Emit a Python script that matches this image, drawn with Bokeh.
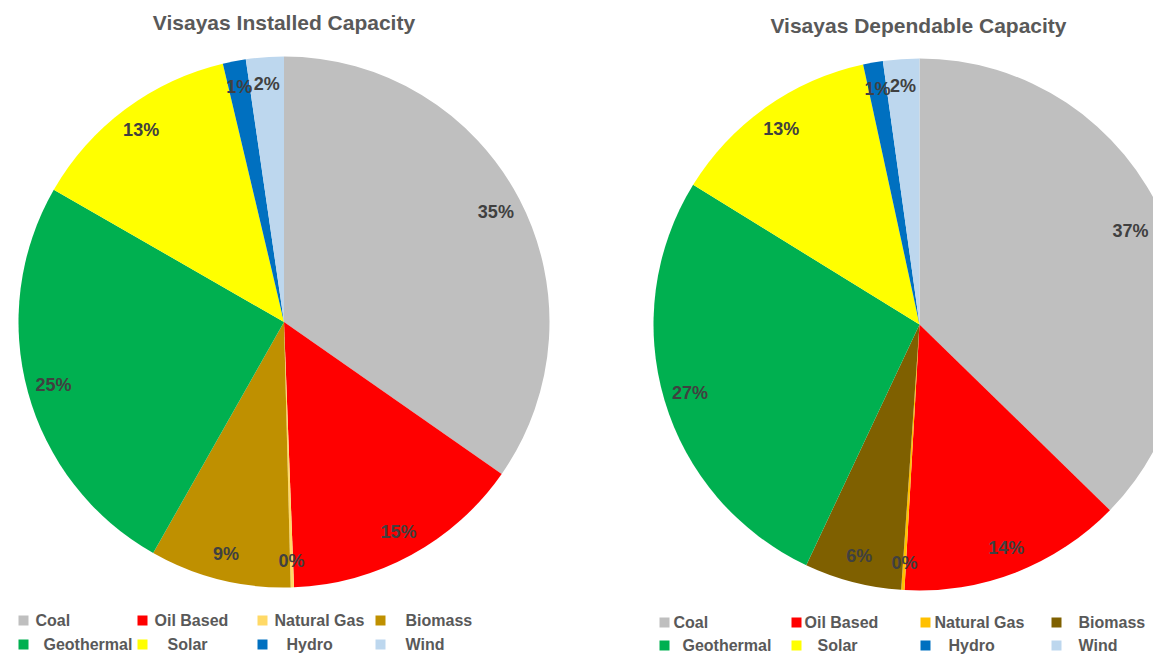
import numpy as np
from bokeh.plotting import figure
from bokeh.models import Range1d, ColumnDataSource
from bokeh.core.properties import value
from bokeh.embed import file_html
from bokeh.resources import INLINE

# ---------------- data ----------------
categories = ["Coal", "Oil Based", "Natural Gas", "Biomass",
              "Geothermal", "Solar", "Hydro", "Wind"]
installed = [34.7, 14.7, 0.2, 8.6, 25.1, 13.0, 1.4, 2.3]
dependable = [37.3, 13.6, 0.2, 5.9, 26.8, 12.8, 1.2, 2.2]
titles = ["Visayas Installed Capacity", "Visayas Dependable Capacity"]

colors_installed = ["#BFBFBF", "#FF0000", "#FFD966", "#BF9000",
                    "#00B050", "#FFFF00", "#0070C0", "#BDD7EE"]
colors_dependable = ["#BFBFBF", "#FF0000", "#FFC000", "#7F6000",
                     "#00B050", "#FFFF00", "#0070C0", "#BDD7EE"]

# ---------------- layout ----------------
W, H = 1153, 654
FONT = "Liberation Sans"


def sy(y):
    # picture y (from top) -> data y (up)
    return H - y


p = figure(width=W, height=H, x_range=Range1d(0, W), y_range=Range1d(0, H),
           output_backend="svg", toolbar_location=None, min_border=0,
           x_axis_location=None, y_axis_location=None)
p.grid.visible = False
p.outline_line_color = None
p.background_fill_color = "white"
p.border_fill_color = "white"

pies = [
    dict(vals=installed, colors=colors_installed, cx=283.5, cy=321.5, r=265.5,
         title=titles[0], tx=283.5, ty=22,
         sq_x=[23, 142, 262, 380], txt_x=[[35, 154, 274, 405], [43, 167, 286, 405]],
         rows=[620, 644]),
    dict(vals=dependable, colors=colors_dependable, cx=919, cy=324, r=266,
         title=titles[1], tx=918, ty=25,
         sq_x=[664, 796, 925, 1056], txt_x=[[673, 804, 934, 1078], [682, 817, 948, 1078]],
         rows=[622, 645]),
]

for pie in pies:
    vals = np.array(pie["vals"], dtype=float)
    frac = vals / vals.sum()
    cum = np.concatenate([[0], np.cumsum(frac)]) * 2 * np.pi
    start = np.pi / 2 - cum[:-1]
    end = np.pi / 2 - cum[1:]
    mid = (cum[:-1] + cum[1:]) / 2
    src = ColumnDataSource(dict(start=start, end=end, color=pie["colors"], cat=categories))
    p.wedge(x=pie["cx"], y=sy(pie["cy"]), radius=pie["r"], start_angle="start",
            end_angle="end", direction="clock", fill_color="color",
            line_color=None, source=src)

    lr = 0.9 * pie["r"]
    lx = np.minimum(pie["cx"] + lr * np.sin(mid), W - 23)
    ly = sy(pie["cy"]) + lr * np.cos(mid)
    labels = [f"{round(f * 100):d}%" for f in frac]
    p.text(x=lx, y=ly, text=labels, text_font=value(FONT), text_font_style="bold",
           text_font_size="18px", text_color="#404040", text_align="center",
           text_baseline="middle")

    p.text(x=[pie["tx"]], y=[sy(pie["ty"])], text=[pie["title"]], text_font=value(FONT),
           text_font_style="bold", text_font_size="21px", text_color="#595959",
           text_align="center", text_baseline="middle")

    # legend
    for row in range(2):
        idx = list(range(row * 4, row * 4 + 4))
        p.scatter(x=pie["sq_x"], y=[sy(pie["rows"][row])] * 4, marker="square", size=10,
                  fill_color=[pie["colors"][i] for i in idx], line_color=None)
        p.text(x=pie["txt_x"][row], y=[sy(pie["rows"][row])] * 4,
               text=[categories[i] for i in idx], text_font=value(FONT),
               text_font_style="bold", text_font_size="16px", text_color="#595959",
               text_align="left", text_baseline="middle")

open("out.html", "w").write(file_html(p, INLINE))
